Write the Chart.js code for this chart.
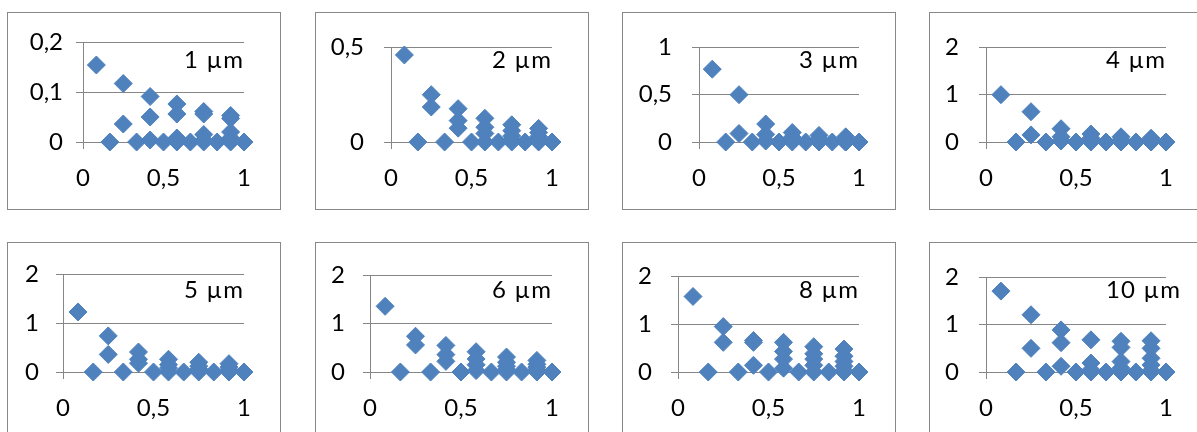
<!DOCTYPE html>
<html><head><meta charset="utf-8">
<script src="https://cdn.jsdelivr.net/npm/chart.js@4"></script>
<style>
html,body{margin:0;padding:0;background:#fff;overflow:hidden;width:1197px;height:432px;position:relative}
.box{position:absolute;border:1px solid #888888;width:272px;height:196px;background:#fff}
.box canvas{position:absolute;left:0;top:0}
</style></head><body>
<script>
// x positions (fraction), grouped: k=1..12 twelfths, repeated where several values share an x
const xValues = [0.083, 0.167, 0.25, 0.25, 0.333, 0.417, 0.417, 0.417, 0.5,
  0.583, 0.583, 0.583, 0.583, 0.667, 0.75, 0.75, 0.75, 0.75, 0.75, 0.833,
  0.917, 0.917, 0.917, 0.917, 0.917, 0.917, 1.0];

const y1um  = [0.154, 0, 0.117, 0.036, 0, 0.091, 0.05, 0.004, 0, 0.076, 0.056, 0.008, 0, 0, 0.061, 0.056, 0.015, 0.004, 0, 0, 0.053, 0.047, 0.02, 0.008, 0.002, 0, 0];
const y2um  = [0.46, 0, 0.25, 0.185, 0, 0.176, 0.113, 0.073, 0, 0.125, 0.078, 0.045, 0, 0, 0.091, 0.06, 0.032, 0.012, 0, 0, 0.072, 0.05, 0.028, 0.012, 0.004, 0, 0];
const y3um  = [0.77, 0, 0.5, 0.09, 0, 0.19, 0.08, 0.01, 0, 0.1, 0.05, 0.02, 0, 0, 0.07, 0.03, 0.01, 0, 0, 0, 0.055, 0.02, 0.01, 0, 0, 0, 0];
const y4um  = [1.0, 0, 0.64, 0.15, 0, 0.28, 0.11, 0.02, 0, 0.17, 0.08, 0.03, 0, 0, 0.11, 0.05, 0.02, 0, 0, 0, 0.08, 0.04, 0.01, 0, 0, 0, 0];
const y5um  = [1.23, 0, 0.74, 0.36, 0, 0.41, 0.26, 0.18, 0, 0.26, 0.15, 0.08, 0, 0, 0.2, 0.12, 0.06, 0.02, 0, 0, 0.17, 0.1, 0.05, 0.02, 0, 0, 0];
const y6um  = [1.36, 0, 0.74, 0.56, 0, 0.55, 0.36, 0.22, 0, 0.42, 0.27, 0.15, 0.03, 0, 0.31, 0.2, 0.12, 0.05, 0, 0, 0.24, 0.16, 0.1, 0.05, 0.01, 0, 0];
const y8um  = [1.58, 0, 0.95, 0.62, 0, 0.66, 0.62, 0.14, 0, 0.62, 0.43, 0.27, 0.08, 0, 0.53, 0.38, 0.27, 0.14, 0, 0, 0.48, 0.33, 0.22, 0.12, 0.03, 0, 0];
const y10um = [1.71, 0, 1.21, 0.5, 0, 0.89, 0.62, 0.12, 0, 0.68, 0.19, 0.05, 0, 0, 0.65, 0.52, 0.22, 0.08, 0, 0, 0.66, 0.5, 0.29, 0.15, 0.03, 0, 0];

const panelTitles = ['1 µm', '2 µm', '3 µm', '4 µm', '5 µm', '6 µm', '8 µm', '10 µm'];
const panelSeries = [y1um, y2um, y3um, y4um, y5um, y6um, y8um, y10um];

const yTickValuesA = [0, 0.1, 0.2];  const yTickLabelsA = ['0', '0,1', '0,2'];
const yTickValuesB = [0, 0.5];       const yTickLabelsB = ['0', '0,5'];
const yTickValuesC = [0, 0.5, 1];    const yTickLabelsC = ['0', '0,5', '1'];
const yTickValuesD = [0, 1, 2];      const yTickLabelsD = ['0', '1', '2'];
const panelYTicks = [[yTickValuesA, yTickLabelsA], [yTickValuesB, yTickLabelsB], [yTickValuesC, yTickLabelsC],
  [yTickValuesD, yTickLabelsD], [yTickValuesD, yTickLabelsD], [yTickValuesD, yTickLabelsD],
  [yTickValuesD, yTickLabelsD], [yTickValuesD, yTickLabelsD]];
const xTickValues = [0, 0.5, 1];
const xTickLabels = ['0', '0,5', '1'];

// layout (pixels)
const boxLefts = [7, 315, 622, 929, 7, 315, 622, 929];
const boxTops = [12, 12, 12, 12, 242, 242, 242, 242];
const yAxisWidths = [75, 75, 76, 56, 55, 54, 55, 56];
const yLabelPads = [13, 20, 20, 20, 17, 18, 19, 20];

const FONT = {family: 'Lato', size: 24};
const GRID = '#868686';

const cornerTitle = {
  id: 'cornerTitle',
  afterDatasetsDraw(chart, args, opts) {
    const ctx = chart.ctx;
    ctx.save();
    ctx.font = '24px Lato';
    ctx.fillStyle = '#000';
    ctx.textAlign = 'left';
    ctx.textBaseline = 'alphabetic';
    if ('letterSpacing' in ctx) ctx.letterSpacing = '1.2px';
    ctx.fillText(opts.text, 176, 55);
    ctx.restore();
  }
};

panelSeries.forEach((ys, p) => {
  const box = document.createElement('div');
  box.className = 'box';
  box.style.left = boxLefts[p] + 'px';
  box.style.top = boxTops[p] + 'px';
  const cv = document.createElement('canvas');
  cv.width = 272; cv.height = 196;
  cv.style.width = '272px'; cv.style.height = '196px';
  box.appendChild(cv);
  document.body.appendChild(box);

  const [yVals, yLabels] = panelYTicks[p];
  new Chart(cv, {
    type: 'scatter',
    data: {
      datasets: [{
        data: xValues.map((x, i) => ({x: x, y: ys[i]})),
        pointStyle: 'rectRot',
        pointRadius: 9,
        pointHoverRadius: 9,
        backgroundColor: '#4F81BD',
        borderColor: '#4F81BD',
        borderWidth: 1,
        clip: false
      }]
    },
    options: {
      responsive: false,
      animation: false,
      events: [],
      devicePixelRatio: 1,
      layout: {padding: {left: 0, top: 29, right: 36, bottom: 0}},
      plugins: {
        legend: {display: false},
        tooltip: {enabled: false},
        cornerTitle: {text: panelTitles[p]}
      },
      scales: {
        x: {
          type: 'linear', min: 0, max: 1,
          afterBuildTicks: s => { s.ticks = xTickValues.map(v => ({value: v})); },
          afterFit: s => { s.height = 67; },
          grid: {drawOnChartArea: false, drawTicks: true, tickLength: 7, color: GRID, lineWidth: 1},
          border: {display: true, color: GRID, width: 1},
          ticks: {font: FONT, color: '#000', padding: 15, maxRotation: 0, autoSkip: false,
            callback: v => xTickLabels[xTickValues.indexOf(v)]}
        },
        y: {
          type: 'linear', min: 0, max: yVals[yVals.length - 1],
          afterBuildTicks: s => { s.ticks = yVals.map(v => ({value: v})); },
          afterFit: s => { s.width = yAxisWidths[p]; },
          grid: {color: GRID, tickLength: 7, lineWidth: 1},
          border: {display: true, color: GRID, width: 1},
          ticks: {font: FONT, color: '#000', padding: yLabelPads[p], autoSkip: false,
            callback: v => yLabels[yVals.indexOf(v)]}
        }
      }
    },
    plugins: [cornerTitle]
  });
});
</script>
</body></html>
